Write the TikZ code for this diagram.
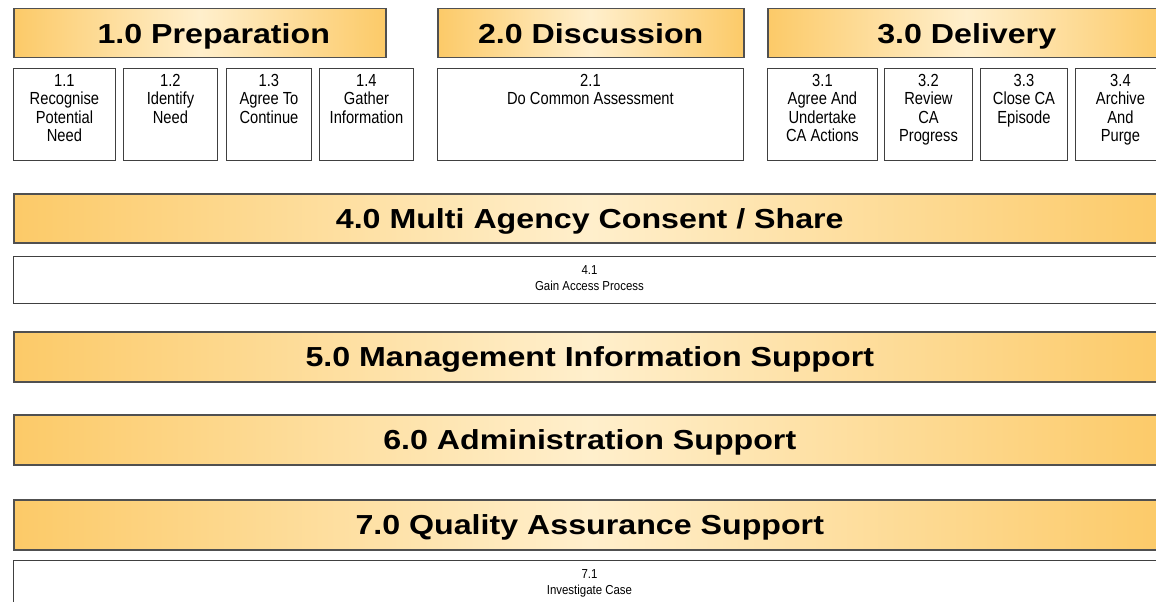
\documentclass[tikz,border=0pt]{standalone}
\usepackage{fontspec}
\setmainfont{Liberation Sans}
\newfontfamily\headfont[FakeStretch=1.17]{Liberation Sans}
\newfontfamily\taskfont[FakeStretch=0.84]{Liberation Sans}
\newfontfamily\widefont[FakeStretch=0.88]{Liberation Sans}
\definecolor{hdorange}{RGB}{252,202,104}
\definecolor{hdlight}{RGB}{255,239,204}
\definecolor{rimgray}{RGB}{80,80,80}
\tikzset{
  phase/.style={draw=rimgray, line width=1.5pt, anchor=north west,
    left color=hdorange, right color=hdorange, middle color=hdlight,
    inner sep=0pt, minimum height=49pt, text height=20pt, text depth=0pt,
    font=\headfont\bfseries\fontsize{27.5}{30}\selectfont},
  task/.style={draw=black!75, line width=0.9pt, fill=white, anchor=north west,
    inner sep=0pt, minimum height=92pt},
  tasktext/.style={anchor=north, align=center, inner sep=0pt, yshift=-6pt,
    font=\taskfont\fontsize{17.5}{18.5}\selectfont},
  widetask/.style={task, minimum width=1152pt, minimum height=47pt},
  widetext/.style={anchor=north, align=center, inner sep=0pt, yshift=-9pt,
    font=\widefont\fontsize{13}{16.5}\selectfont}
}
\begin{document}
\begin{tikzpicture}[x=1pt,y=-1pt]
\useasboundingbox (0,0) rectangle (1156,602);
\clip (0,0) rectangle (1156,602);
\fill [white] (0,0) rectangle (1156,602);
% top row of phases
\node (prep) [phase, minimum width=372pt] at (13,8) {\hspace{28pt}1.0 Preparation};
\node (disc) [phase, minimum width=306pt] at (437,8) {2.0 Discussion};
\node (deliv) [phase, minimum width=398pt] at (767,8) {3.0 Delivery};
% 1.x tasks
\node (t11) [task, minimum width=102pt] at (13,68) {};
\node (t11txt) [tasktext] at (t11.north) {1.1\\Recognise\\Potential\\Need};
\node (t12) [task, minimum width=94pt] at (123,68) {};
\node (t12txt) [tasktext] at (t12.north) {1.2\\Identify\\Need};
\node (t13) [task, minimum width=85pt] at (226,68) {};
\node (t13txt) [tasktext] at (t13.north) {1.3\\Agree To\\Continue};
\node (t14) [task, minimum width=94pt] at (319,68) {};
\node (t14txt) [tasktext] at (t14.north) {1.4\\Gather\\Information};
% 2.x tasks
\node (t21) [task, minimum width=306pt] at (437,68) {};
\node (t21txt) [tasktext] at (t21.north) {2.1\\Do Common Assessment};
% 3.x tasks
\node (t31) [task, minimum width=110pt] at (767,68) {};
\node (t31txt) [tasktext] at (t31.north) {3.1\\Agree And\\Undertake\\CA Actions};
\node (t32) [task, minimum width=88pt] at (884,68) {};
\node (t32txt) [tasktext] at (t32.north) {3.2\\Review\\CA\\Progress};
\node (t33) [task, minimum width=87pt] at (980,68) {};
\node (t33txt) [tasktext] at (t33.north) {3.3\\Close CA\\Episode};
\node (t34) [task, minimum width=90pt] at (1075,68) {};
\node (t34txt) [tasktext] at (t34.north) {3.4\\Archive\\And\\Purge};
% full width phases
\node (share) [phase, minimum width=1152pt] at (13,193) {4.0 Multi Agency Consent / Share};
\node (t41) [widetask] at (13,256) {};
\node (t41txt) [widetext] at (t41.north) {4.1\\Gain Access Process};
\node (mis) [phase, minimum width=1152pt, minimum height=50pt] at (13,331) {5.0 Management Information Support};
\node (admin) [phase, minimum width=1152pt, minimum height=50pt] at (13,414) {6.0 Administration Support};
\node (qa) [phase, minimum width=1152pt, minimum height=50pt] at (13,499) {7.0 Quality Assurance Support};
\node (t71) [widetask] at (13,560) {};
\node (t71txt) [widetext] at (t71.north) {7.1\\Investigate Case};
\end{tikzpicture}
\end{document}
